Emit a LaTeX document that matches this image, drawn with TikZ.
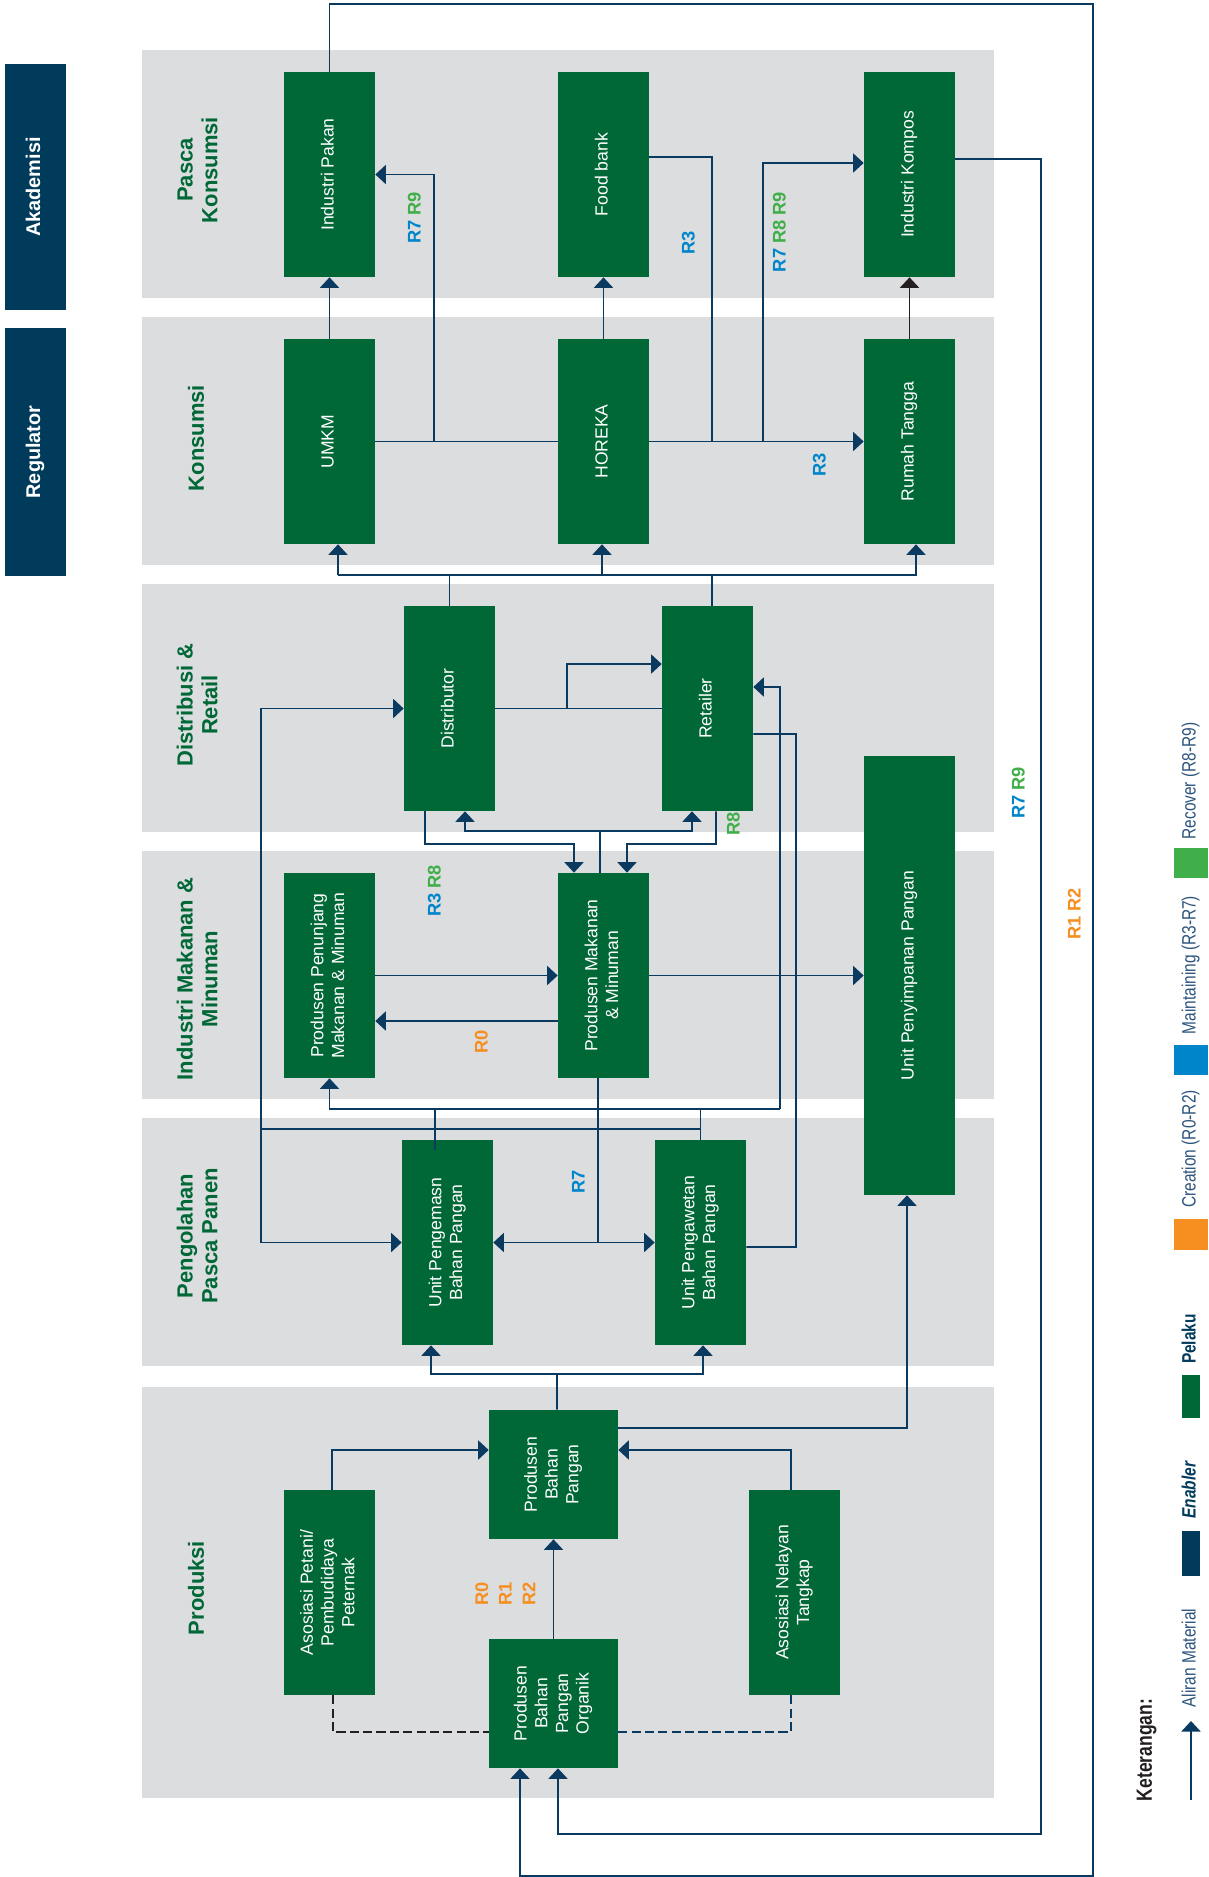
\documentclass[tikz,border=0pt]{standalone}
\usepackage{fontspec}
\setmainfont{Liberation Sans}
\newfontfamily\condfont[FakeStretch=0.8]{Liberation Sans}
\usepackage{xcolor}
\usepackage{graphicx}
\usepackage{tikz}
\usetikzlibrary{arrows.meta,calc,positioning}
\definecolor{pelakuGreen}{RGB}{0,104,55}
\definecolor{enablerNavy}{RGB}{0,59,92}
\definecolor{flowNavy}{RGB}{10,58,96}
\definecolor{panelGray}{RGB}{220,221,223}
\definecolor{darkInk}{RGB}{35,31,32}
\definecolor{legInk}{RGB}{44,84,124}
\definecolor{rBlue}{RGB}{0,133,202}
\definecolor{rGreen}{RGB}{64,174,73}
\definecolor{rOrange}{RGB}{246,142,32}
\newcommand{\vtxt}[1]{\rotatebox{90}{\begin{tabular}{@{}c@{}}#1\end{tabular}}}
\newcommand{\rcB}[1]{\textcolor{rBlue}{#1}}
\newcommand{\rcG}[1]{\textcolor{rGreen}{#1}}
\newcommand{\rcO}[1]{\textcolor{rOrange}{#1}}

\begin{document}
\begin{tikzpicture}[
        x=0.02cm, y=-0.02cm,
        actor/.style={fill=pelakuGreen, text=white, inner sep=0pt, minimum width=1.82cm, minimum height=4.1cm, font=\fontsize{10}{11.8}\selectfont},
        enabler/.style={fill=enablerNavy, text=white, inner sep=0pt, minimum width=1.22cm, font=\fontsize{11.3}{13}\selectfont\bfseries},
        header/.style={text=pelakuGreen, inner sep=0pt, font=\fontsize{12.5}{14.2}\selectfont\bfseries},
        rlab/.style={inner sep=0pt, font=\fontsize{10.4}{13.4}\selectfont\bfseries},
        link/.style={draw=flowNavy, line width=1.1pt},
        flow/.style={link, -{Triangle[length=0.21cm,width=0.38cm]}},
        dashline/.style={draw=flowNavy, line width=1.1pt, dash pattern=on 5.2pt off 2.4pt},
        legtxt/.style={text=legInk, inner sep=0pt, font=\condfont\fontsize{11}{13}\selectfont},
        legsq/.style={inner sep=0pt, minimum width=0.36cm}
    ]
        \useasboundingbox (0,0) rectangle (1209,1877);

        % Stage panels
        \foreach \ya/\yb in {50/298, 317/565, 584/832, 851/1099, 1118/1366, 1387/1798}
            \fill[panelGray] (142,\ya) rectangle (994,\yb);

        % Enablers
        \node[enabler, minimum height=4.92cm] (enAkademisi) at (35.5,187) {\vtxt{Akademisi}};
        \node[enabler, minimum height=4.96cm] (enRegulator) at (35.5,452) {\vtxt{Regulator}};

        % Stage headers
        \node[header] (hdPasca) at (200,170) {\vtxt{Pasca\\Konsumsi}};
        \node[header] (hdKonsumsi) at (199,438) {\vtxt{Konsumsi}};
        \node[header] (hdDistribusi) at (200,705) {\vtxt{Distribusi \&\\Retail}};
        \node[header] (hdIndustri) at (200,979) {\vtxt{Industri Makanan \&\\Minuman}};
        \node[header] (hdPengolahan) at (200,1236) {\vtxt{Pengolahan\\Pasca Panen}};
        \node[header] (hdProduksi) at (199,1588) {\vtxt{Produksi}};

        % Pasca Konsumsi
        \node[actor] (acPakan) at (329.5,174.5) {\vtxt{Industri Pakan}};
        \node[actor] (acFood) at (603.5,174.5) {\vtxt{Food bank}};
        \node[actor] (acKompos) at (909.5,174.5) {\vtxt{Industri Kompos}};

        % Konsumsi
        \node[actor] (acUMKM) at (329.5,441.5) {\vtxt{UMKM}};
        \node[actor] (acHoreka) at (603.5,441.5) {\vtxt{HOREKA}};
        \node[actor] (acRumah) at (909.5,441.5) {\vtxt{Rumah Tangga}};

        % Distribusi & Retail
        \node[actor] (acDistributor) at (449.5,708.5) {\vtxt{Distributor}};
        \node[actor] (acRetailer) at (707.5,708.5) {\vtxt{Retailer}};

        % Industri Makanan & Minuman
        \node[actor] (acPenunjang) at (329.5,975.5) {\vtxt{Produsen Penunjang\\Makanan \& Minuman}};
        \node[actor] (acMakanan) at (603.5,975.5) {\vtxt{Produsen Makanan\\\& Minuman}};
        \node[actor, minimum height=8.78cm] (acPenyimpanan) at (909.5,975.5) {\vtxt{Unit Penyimpanan Pangan}};

        % Pengolahan Pasca Panen
        \node[actor] (acPengemasan) at (447.5,1242.5) {\vtxt{Unit Pengemasn\\Bahan Pangan}};
        \node[actor] (acPengawetan) at (700.5,1242.5) {\vtxt{Unit Pengawetan\\Bahan Pangan}};

        % Produksi
        \node[actor, minimum width=2.58cm, minimum height=2.58cm] (acBahan) at (553.5,1474.5) {\vtxt{Produsen\\Bahan\\Pangan}};
        \node[actor] (acPetani) at (329.5,1592.5) {\vtxt{Asosiasi Petani/\\Pembudidaya\\Peternak}};
        \node[actor] (acNelayan) at (794.5,1592.5) {\vtxt{Asosiasi Nelayan\\Tangkap}};
        \node[actor, minimum width=2.58cm, minimum height=2.58cm] (acOrganik) at (553.5,1703.5) {\vtxt{Produsen\\Bahan\\Pangan\\Organik}};

        % Konsumsi -> Pasca Konsumsi
        \draw[flow] (acUMKM) -- (acPakan);
        \draw[flow] (acHoreka) -- (acFood);
        \draw[flow, draw=darkInk] (acRumah) -- (acKompos);
        \draw[link] (acUMKM.east) -- (acHoreka.west);
        \draw[flow] (acHoreka.east) -- (acRumah.west);
        \coordinate (jPakan) at (434,441.5);
        \draw[flow] (jPakan) |- (acPakan.east);
        \draw[link] ($(acFood.east)+(0,-17.5)$) -| (712,441.5);
        \coordinate (jKompos) at (763,441.5);
        \draw[flow] (jKompos) |- ($(acKompos.west)+(0,-11.5)$);

        % Return loops to Produsen Bahan Pangan Organik
        \draw[flow] (acPakan.north) |- (1093,4) |- (520,1876) -- ($(acOrganik.south)+(-33.5,0)$);
        \draw[flow] ($(acKompos.east)+(0,-15.5)$) -| (1041,1834) -| ($(acOrganik.south)+(4.5,0)$);

        % Distribusi & Retail -> Konsumsi
        \coordinate (busK) at (338,575);
        \draw[link] (acDistributor.north) -- (acDistributor.north |- busK);
        \draw[link] ($(acRetailer.north)+(4.5,0)$) -- ++(0,-31);
        \draw[flow] (busK) -- ($(acUMKM.south)+(8.5,0)$);
        \draw[flow] (busK) -| ($(acRumah.south)+(6.5,0)$);
        \draw[flow] (602,575) -- ($(acHoreka.south)+(-1.5,0)$);

        % Distributor / Retailer <-> Produsen Makanan
        \draw[link] (acDistributor.east) -- (acRetailer.west);
        \draw[flow] (567,708.5) |- ($(acRetailer.west)+(0,-44.5)$);
        \draw[flow] ($(acDistributor.south)+(-24.5,0)$) |- (574,844) -- ($(acMakanan.north)+(-29.5,0)$);
        \draw[flow] ($(acRetailer.south)+(8.5,0)$) |- (627,844) -- ($(acMakanan.north)+(23.5,0)$);
        \coordinate (busD) at (600,831);
        \draw[link] ($(acMakanan.north)+(-3.5,0)$) -- (busD);
        \draw[flow] (busD) -| ($(acDistributor.south)+(15.5,0)$);
        \draw[flow] (busD) -| ($(acRetailer.south)+(-15.5,0)$);

        % Pengolahan -> Distributor, Retailer, Penunjang
        \coordinate (jLeft) at (261,1129);
        \draw[flow] (jLeft) |- (acDistributor.west);
        \draw[flow] (jLeft) |- (acPengemasan.west);
        \draw[link] (jLeft) -- (700.5,1129);
        \coordinate (jRight) at (780,1109);
        \draw[flow] (jRight) |- ($(acRetailer.east)+(0,-21.5)$);
        \draw[flow] (jRight) -| (acPenunjang.south);
        \draw[link] ($(acPengemasan.north)+(-12.5,10)$) -- (435,1109);
        \draw[link] (acPengawetan.north) -- (700.5,1109);
        \draw[link] ($(acRetailer.east)+(0,25.5)$) -| (796,1247) -- ($(acPengawetan.east)+(0,4.5)$);

        % Industri Makanan & Minuman
        \draw[flow] (acPenunjang.east) -- (acMakanan.west);
        \draw[flow] ($(acMakanan.west)+(0,45.5)$) -- ($(acPenunjang.east)+(0,45.5)$);
        \draw[flow] (acMakanan.east) -- (acPenyimpanan.west);
        \coordinate (jMakanan) at (598,1242.5);
        \draw[link] ($(acMakanan.south)+(-5.5,0)$) -- (jMakanan);
        \draw[flow] (jMakanan) -- (acPengemasan.east);
        \draw[flow] (jMakanan) -- (acPengawetan.west);

        % Produksi
        \coordinate (busP) at (557,1374);
        \draw[link] ($(acBahan.north)+(3.5,0)$) -- (busP);
        \draw[flow] (busP) -| ($(acPengemasan.south)+(-16.5,0)$);
        \draw[flow] (busP) -| ($(acPengawetan.south)+(2.5,0)$);
        \draw[flow] ($(acBahan.east)+(0,-46.5)$) -| ($(acPenyimpanan.south)+(-2.5,0)$);
        \draw[flow] ($(acPetani.north)+(2.5,0)$) |- ($(acBahan.west)+(0,-24.5)$);
        \draw[flow] ($(acNelayan.north)+(-3.5,0)$) |- ($(acBahan.east)+(0,-24.5)$);
        \draw[flow] (acOrganik.north) -- (acBahan.south);
        \draw[dashline, draw=darkInk] ($(acPetani.south)+(3.5,0)$) |- ($(acOrganik.west)+(0,28.5)$);
        \draw[dashline] ($(acNelayan.south)+(-3.5,0)$) |- ($(acOrganik.east)+(0,28.5)$);

        % R labels
        \node[rlab] (lbPakan) at (416,218) {\vtxt{\rcB{R7} \rcG{R9}}};
        \node[rlab] (lbFood) at (690,243) {\vtxt{\rcB{R3}}};
        \node[rlab] (lbKompos) at (781,232) {\vtxt{\rcB{R7} \rcG{R8 R9}}};
        \node[rlab] (lbRumah) at (821,465) {\vtxt{\rcB{R3}}};
        \node[rlab] (lbDistrib) at (436,891) {\vtxt{\rcB{R3} \rcG{R8}}};
        \node[rlab] (lbRetail) at (735,824) {\vtxt{\rcG{R8}}};
        \node[rlab] (lbPenunjang) at (483,1042) {\vtxt{\rcO{R0}}};
        \node[rlab] (lbOlah) at (580,1182) {\vtxt{\rcB{R7}}};
        \node[rlab] (lbBahan) at (507,1594) {\vtxt{\rcO{R0}\\\rcO{R1}\\\rcO{R2}}};
        \node[rlab] (lbLoopA) at (1020,793) {\vtxt{\rcB{R7} \rcG{R9}}};
        \node[rlab] (lbLoopB) at (1076,914) {\vtxt{\rcO{R1 R2}}};

        % Keterangan
        \node[inner sep=0pt, text=darkInk, font=\condfont\fontsize{12.5}{14}\selectfont\bfseries] (lgTitle) at (1147,1750) {\vtxt{Keterangan:}};
        \coordinate (lgFrom) at (1191,1800);
        \coordinate (lgTo) at (1191,1721);
        \draw[flow] (lgFrom) -- (lgTo);
        \node[legtxt] (lgAliran) at (1191,1658) {\vtxt{Aliran Material}};
        \node[legsq, fill=enablerNavy, minimum height=0.9cm] (lgEnablerSq) at (1191,1553.5) {};
        \node[legtxt, text=enablerNavy, font=\condfont\fontsize{11}{13}\selectfont\bfseries\itshape] (lgEnabler) at (1191,1490) {\vtxt{Enabler}};
        \node[legsq, fill=pelakuGreen, minimum height=0.86cm] (lgPelakuSq) at (1191,1396.5) {};
        \node[legtxt, text=enablerNavy, font=\condfont\fontsize{11}{13}\selectfont\bfseries] (lgPelaku) at (1191,1339) {\vtxt{Pelaku}};
        \node[legsq, fill=rOrange, minimum width=0.68cm, minimum height=0.62cm] (lgCreateSq) at (1191,1234.5) {};
        \node[legtxt] (lgCreate) at (1191,1149) {\vtxt{Creation (R0-R2)}};
        \node[legsq, fill=rBlue, minimum width=0.68cm, minimum height=0.6cm] (lgMaintSq) at (1191,1060) {};
        \node[legtxt] (lgMaint) at (1191,965) {\vtxt{Maintaining (R3-R7)}};
        \node[legsq, fill=rGreen, minimum width=0.68cm, minimum height=0.6cm] (lgRecoverSq) at (1191,863) {};
        \node[legtxt] (lgRecover) at (1191,781) {\vtxt{Recover (R8-R9)}};
    \end{tikzpicture}
\end{document}
